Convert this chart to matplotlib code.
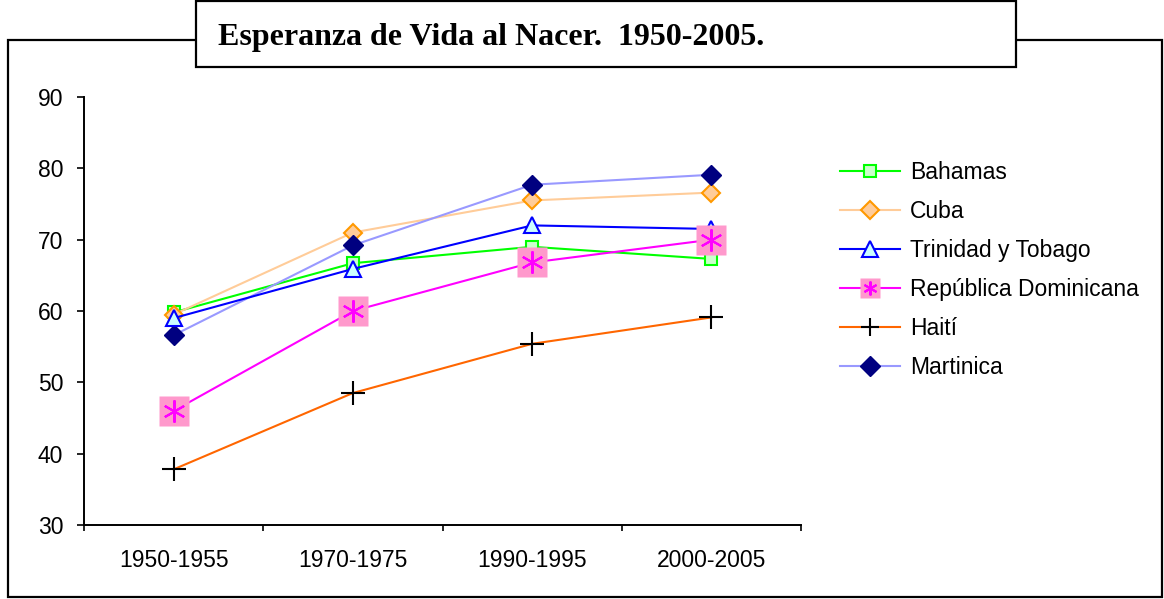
import matplotlib
matplotlib.use("Agg")
import matplotlib.pyplot as plt
from matplotlib.patches import Rectangle
from matplotlib.lines import Line2D

# data
periodos = ["1950-1955", "1970-1975", "1990-1995", "2000-2005"]
bahamas = [59.8, 66.7, 69.0, 67.3]
cuba = [59.5, 71.0, 75.5, 76.6]
trinidad = [59.0, 65.9, 72.0, 71.5]
rep_dom = [46.0, 60.0, 66.8, 70.0]
haiti = [37.8, 48.5, 55.4, 59.1]
martinica = [56.6, 69.2, 77.7, 79.1]

W, H = 1164, 599
plt.rcParams['font.family'] = ['Liberation Sans', 'DejaVu Sans']

fig = plt.figure(figsize=(W / 100, H / 100), dpi=100)

# outer frame + title box (pixel coords -> figure fraction)
def px(x, y):
    return x / W, 1 - y / H

x0, y0 = px(8, 597)
x1, y1 = px(1162, 40)
fig.patches.append(Rectangle((x0, y0), x1 - x0, y1 - y0, transform=fig.transFigure,
                             fill=False, edgecolor='black', lw=1.6, zorder=0))
tx0, ty0 = px(196, 67)
tx1, ty1 = px(1016, 0)
fig.patches.append(Rectangle((tx0, ty0), tx1 - tx0, ty1 - ty0 - 0.002, transform=fig.transFigure,
                             facecolor='white', edgecolor='black', lw=1.6, zorder=1))
fig.text(px(218, 0)[0], px(0, 38)[1], "Esperanza de Vida al Nacer.  1950-2005.",
         family='Liberation Serif', fontweight='bold', fontsize=23, va='center', ha='left')

al, ab = px(84, 525)
ar, at = px(801, 97)
ax = fig.add_axes([al, ab, ar - al, at - ab])

x = range(len(periodos))
lw = 1.5
fs = 16.5

ax.plot(x, bahamas, color='#00FF00', lw=lw, marker='s', ms=9, mfc='#CCFFCC',
        mec='#00FF00', mew=1.5, zorder=3)
ax.plot(x, cuba, color='#FFCC99', lw=lw, marker='D', ms=9, mfc='#FFCC99',
        mec='#FF9900', mew=1.5, zorder=3)
ax.plot(x, trinidad, color='#0000FF', lw=lw, marker='^', ms=12, mfc='#CCFFFF',
        mec='#0000FF', mew=1.5, zorder=4)
ax.plot(x, rep_dom, color='#FF00FF', lw=lw, zorder=3)
ax.plot(x, rep_dom, ls='none', marker='s', ms=21, mfc='#FF99CC', mec='none', zorder=5)
ax.plot(x, rep_dom, ls='none', marker=(6, 2, 0), ms=16, mec='#FF00FF', mew=1.5, zorder=6)
ax.plot(x, haiti, color='#FF6600', lw=lw, zorder=3)
ax.plot(x, haiti, ls='none', marker='+', ms=17, mec='black', mew=1.5, zorder=4)
ax.plot(x, martinica, color='#9999FF', lw=lw, marker='D', ms=10, mfc='#000080',
        mec='#000080', zorder=3)

ax.set_xlim(-0.5, 3.5)
ax.set_ylim(30, 90)
ax.set_yticks(range(30, 91, 10))
ax.set_xticks([-0.5, 0.5, 1.5, 2.5, 3.5])
ax.set_xticklabels([])
ax.set_xticks(list(x), minor=True)
ax.set_xticklabels(periodos, minor=True)
ax.tick_params(axis='x', which='major', length=4, width=1.2, direction='out')
ax.tick_params(axis='x', which='minor', length=0, pad=17, labelsize=fs)
ax.tick_params(axis='y', length=5, width=1.2, direction='out', labelsize=fs, pad=10)
for s in ['top', 'right']:
    ax.spines[s].set_visible(False)
for s in ['left', 'bottom']:
    ax.spines[s].set_linewidth(1.4)

# legend handles
h_bah = Line2D([], [], color='#00FF00', lw=lw, marker='s', ms=9, mfc='#CCFFCC', mec='#00FF00', mew=1.5)
h_cub = Line2D([], [], color='#FFCC99', lw=lw, marker='D', ms=9, mfc='#FFCC99', mec='#FF9900', mew=1.5)
h_tri = Line2D([], [], color='#0000FF', lw=lw, marker='^', ms=11, mfc='#CCFFFF', mec='#0000FF', mew=1.5)
h_rd1 = Line2D([], [], color='#FF00FF', lw=lw, marker='s', ms=14, mfc='#FF99CC', mec='none')
h_rd2 = Line2D([], [], ls='none', marker=(6, 2, 0), ms=10, mec='#FF00FF', mew=1.5)
h_hai = Line2D([], [], color='#FF6600', lw=lw, marker='+', ms=13, mec='black', mew=1.5)
h_mar = Line2D([], [], color='#9999FF', lw=lw, marker='D', ms=10, mfc='#000080', mec='#000080')

fig.legend([h_bah, h_cub, h_tri, (h_rd1, h_rd2), h_hai, h_mar],
           ["Bahamas", "Cuba", "Trinidad y Tobago", "República Dominicana", "Haití", "Martinica"],
           loc='upper left', bbox_to_anchor=px(831, 152), frameon=False, fontsize=fs,
           handlelength=2.6, handletextpad=0.45, labelspacing=0.70, borderaxespad=0)

fig.savefig("out.png", dpi=100)
